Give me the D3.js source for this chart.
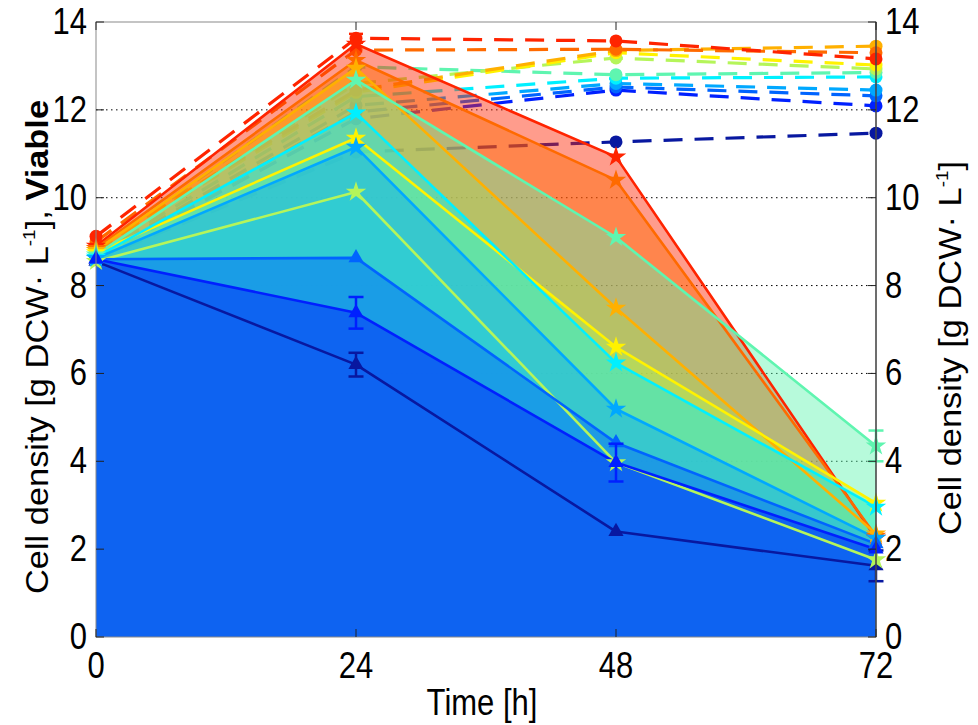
<!DOCTYPE html>
<html>
<head>
<meta charset="utf-8">
<script src="https://cdn.jsdelivr.net/npm/d3@7"></script>
<style>
  html, body { margin: 0; padding: 0; background: #fff; }
  svg { display: block; font-family: "Liberation Sans", Arial, Helvetica, sans-serif; }
</style>
</head>
<body>
<svg id="chart" width="978" height="725"></svg>
<script>
// Sampling times [h]
const times = [0, 24, 48, 72];
const xTicks = [0, 24, 48, 72];
const yTicks = [0, 2, 4, 6, 8, 10, 12, 14];

// One entry per culture, ordered along the jet colour map (low -> high)
const seriesNames = ["c1", "c2", "c3", "c4", "c5", "c6", "c7", "c8", "c9", "c10", "c11"];
const seriesColors = ["#0818a0", "#0020ff", "#0064ff", "#00a8ff", "#00f0ff", "#5ff5b0",
                      "#b5f55a", "#fff200", "#ffb000", "#ff6a00", "#ff2400"];
const seriesMarkers = ["triangle", "triangle", "triangle", "star", "star", "star",
                       "star", "star", "star", "star", "star"];

// Viable cell density [g DCW/L] (solid lines, filled areas)
const viable = [
  [8.55, 6.20, 2.40, 1.62],
  [8.60, 7.38, 3.97, 2.00],
  [8.60, 8.63, 4.42, 2.12],
  [8.62, 11.15, 5.19, 2.25],
  [8.65, 11.93, 6.24, 2.96],
  [8.70, 12.68, 9.10, 4.35],
  [8.55, 10.13, 3.97, 1.76],
  [8.75, 11.36, 6.60, 3.05],
  [8.80, 12.95, 7.49, 2.35],
  [8.85, 13.13, 10.40, 2.30],
  [8.90, 13.50, 10.93, 2.25]
];
const viableErr = [
  [0, 0.27, 0, 0.35],
  [0, 0.36, 0.43, 0],
  [0, 0, 0, 0],
  [0, 0, 0, 0],
  [0, 0, 0, 0],
  [0, 0, 0, 0.35],
  [0, 0, 0, 0],
  [0, 0, 0, 0],
  [0, 0, 0, 0],
  [0, 0, 0, 0],
  [0, 0, 0, 0]
];

// Total cell density [g DCW/L] (dashed lines, right axis)
const total = [
  [8.60, 11.04, 11.27, 11.47],
  [8.60, 11.80, 12.45, 12.09],
  [8.62, 11.95, 12.52, 12.32],
  [8.65, 12.10, 12.60, 12.45],
  [8.70, 12.30, 12.72, 12.75],
  [8.75, 12.98, 12.80, 12.85],
  [8.80, 12.60, 13.18, 12.93],
  [8.85, 12.40, 13.30, 13.02],
  [8.90, 12.45, 13.35, 13.45],
  [9.00, 13.36, 13.38, 13.30],
  [9.12, 13.63, 13.57, 13.16]
];
const totalErr = [
  [0, 0, 0, 0], [0, 0, 0, 0], [0, 0, 0, 0], [0, 0, 0, 0], [0, 0, 0, 0], [0, 0, 0, 0],
  [0, 0, 0, 0], [0, 0, 0, 0], [0, 0, 0, 0], [0, 0, 0, 0], [0, 0.1, 0, 0]
];

const svg = d3.select("#chart");
const margin = { left: 96, right: 102, top: 22, bottom: 88 };
const W = 978, H = 725;
const x = d3.scaleLinear().domain([0, 72]).range([margin.left, W - margin.right]);
const yL = d3.scaleLinear().domain([0, 14]).range([H - margin.bottom, margin.top]);
const yR = d3.scaleLinear().domain([0, 14]).range([H - margin.bottom, margin.top]);

const FS = 31;      // label font size
const SY = 1.18;    // glyphs are drawn tall and narrow
const SR = 1.11;    // stretch of the rotated axis titles

// horizontal dotted grid
svg.append("g").selectAll("line").data(yTicks.filter(d => d > 0 && d < 14)).join("line")
  .attr("x1", x(0)).attr("x2", x(72))
  .attr("y1", d => yL(d)).attr("y2", d => yL(d))
  .attr("stroke", "#000").attr("stroke-width", 1).attr("stroke-dasharray", "1.5,3.5");

const idx = d3.range(seriesNames.length);

// total density: dashed lines with round markers (drawn beneath the viable areas)
const lineT = d3.line().x((d, i) => x(times[i])).y(d => yR(d));
const gT = svg.append("g");
idx.forEach(s => {
  gT.append("path").datum(total[s]).attr("d", lineT)
    .attr("fill", "none").attr("stroke", seriesColors[s]).attr("stroke-width", 3.2)
    .attr("stroke-dasharray", "19,12");
  total[s].forEach((v, i) => {
    const e = totalErr[s][i];
    if (e > 0) {
      gT.append("line").attr("x1", x(times[i])).attr("x2", x(times[i]))
        .attr("y1", yR(v - e)).attr("y2", yR(v + e)).attr("stroke", seriesColors[s]).attr("stroke-width", 2.5);
      [v - e, v + e].forEach(c => gT.append("line").attr("x1", x(times[i]) - 7).attr("x2", x(times[i]) + 7)
        .attr("y1", yR(c)).attr("y2", yR(c)).attr("stroke", seriesColors[s]).attr("stroke-width", 2.5));
    }
    gT.append("circle").attr("cx", x(times[i])).attr("cy", yR(v)).attr("r", 6.5)
      .attr("fill", seriesColors[s]);
  });
});

// viable density: translucent areas to zero, highest colours first, blues on top
const area = d3.area().x((d, i) => x(times[i])).y0(yL(0)).y1(d => yL(d));
const fillOrder = [0].concat(d3.range(seriesNames.length - 1, 0, -1));
const gA = svg.append("g");
fillOrder.forEach(s => {
  gA.append("path").datum(viable[s]).attr("d", area)
    .attr("fill", seriesColors[s]).attr("fill-opacity", 0.45).attr("stroke", "none");
});

// viable lines
const lineV = d3.line().x((d, i) => x(times[i])).y(d => yL(d));
const gV = svg.append("g");
fillOrder.forEach(s => {
  gV.append("path").datum(viable[s]).attr("d", lineV)
    .attr("fill", "none").attr("stroke", seriesColors[s]).attr("stroke-width", 2.6)
    .attr("stroke-linejoin", "round");
});

// error bars and markers
const symTri = d3.symbol().type(d3.symbolTriangle).size(100);
const symStar = d3.symbol().type(d3.symbolStar).size(130);
const gM = svg.append("g");
fillOrder.forEach(s => {
  viable[s].forEach((v, i) => {
    const e = viableErr[s][i];
    const cx = x(times[i]);
    if (e > 0) {
      gM.append("line").attr("x1", cx).attr("x2", cx).attr("y1", yL(v - e)).attr("y2", yL(v + e))
        .attr("stroke", seriesColors[s]).attr("stroke-width", 2.5);
      [v - e, v + e].forEach(c => gM.append("line").attr("x1", cx - 7.5).attr("x2", cx + 7.5)
        .attr("y1", yL(c)).attr("y2", yL(c)).attr("stroke", seriesColors[s]).attr("stroke-width", 2.5));
    }
    gM.append("path")
      .attr("d", seriesMarkers[s] === "star" ? symStar() : symTri())
      .attr("transform", `translate(${cx},${yL(v)})`)
      .attr("fill", seriesColors[s]);
  });
});

// axes frame
const gF = svg.append("g");
gF.append("rect").attr("x", x(0)).attr("y", yL(14)).attr("width", x(72) - x(0)).attr("height", yL(0) - yL(14))
  .attr("fill", "none").attr("stroke", "#8a8a8a").attr("stroke-width", 1);
gF.append("line").attr("x1", x(72)).attr("x2", x(72)).attr("y1", yR(0)).attr("y2", yR(14))
  .attr("stroke", "#333").attr("stroke-width", 1.2);

// ticks (inward)
xTicks.forEach(t => {
  [yL(0), yL(14)].forEach((yy, k) => gF.append("line").attr("x1", x(t)).attr("x2", x(t))
    .attr("y1", yy).attr("y2", k === 0 ? yy - 8 : yy + 8).attr("stroke", "#222").attr("stroke-width", 1));
});
yTicks.forEach(t => {
  gF.append("line").attr("x1", x(0)).attr("x2", x(0) + 8).attr("y1", yL(t)).attr("y2", yL(t))
    .attr("stroke", "#222").attr("stroke-width", 1);
  gF.append("line").attr("x1", x(72)).attr("x2", x(72) - 8).attr("y1", yR(t)).attr("y2", yR(t))
    .attr("stroke", "#222").attr("stroke-width", 1);
});

// tick labels (stretched vertically)
const gL = svg.append("g").attr("font-size", FS).attr("fill", "#000");
function label(px, py, anchor, str) {
  gL.append("text").attr("transform", `translate(${px},${py}) scale(1,${SY})`)
    .attr("text-anchor", anchor).text(str);
}
xTicks.forEach(t => label(x(t), yL(0) + 41, "middle", t));
yTicks.forEach(t => {
  label(x(0) - 9, yL(t) + 12, "end", t);
  label(x(72) + 9, yR(t) + 12, "start", t);
});

// axis titles
label((x(0) + x(72)) / 2 - 4, 715, "middle", "Time [h]");

function densityTitle(g, withViable) {
  g.append("tspan").text("Cell density [g DCW\u00B7 L");
  g.append("tspan").attr("font-size", FS * 0.55).attr("dy", -13).text("-1");
  g.append("tspan").attr("dy", 13).text(withViable ? "], " : "]");
  if (withViable) g.append("tspan").attr("font-weight", "bold").text("Viable");
}
const tl = gL.append("text").attr("text-anchor", "middle")
  .attr("transform", `translate(48,347) scale(1,${SR}) rotate(-90)`);
densityTitle(tl, true);
const tr = gL.append("text").attr("text-anchor", "middle")
  .attr("transform", `translate(961,348) scale(1,${SR}) rotate(-90)`);
densityTitle(tr, false);
</script>
</body>
</html>
